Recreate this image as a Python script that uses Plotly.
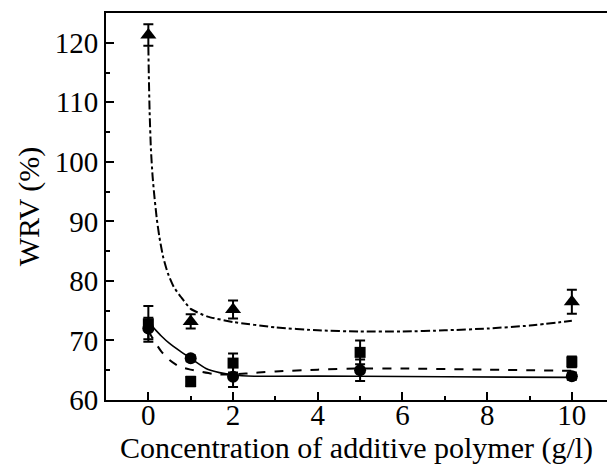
import plotly.graph_objects as go

# Measured WRV values (mean ± error) per additive polymer concentration (g/l)
tri_x = [0, 1, 2, 10]
tri_y = [121.3, 73.2, 75.2, 76.5]
tri_err = [1.8, 1.2, 1.5, 2.0]

sq_x = [0, 1, 2, 5, 10]
sq_y = [72.8, 63.1, 66.2, 68.0, 66.4]
sq_err = [3.0, 0.8, 1.6, 2.0, 0.9]

ci_x = [0, 1, 2, 5, 10]
ci_y = [72.0, 67.0, 63.9, 65.0, 64.0]
ci_err = [1.8, 0.5, 1.7, 1.8, 0.6]

# Fitted trend curves, sampled along each curve
fit_tri_x = [0, 0.01, 0.03, 0.06, 0.1, 0.14, 0.2, 0.26, 0.35, 0.46, 0.6, 0.77, 1.0, 1.4, 2.0, 3.0, 4.0, 5.0, 6.0, 7.0, 8.0, 9.0, 10.0]
fit_tri_y = [119.4, 115.0, 108.4, 102.2, 97.6, 94.4, 90.4, 87.4, 84.0, 81.3, 79.0, 77.3, 75.3, 74.0, 73.1, 72.2, 71.7, 71.5, 71.5, 71.7, 72.0, 72.5, 73.3]

fit_sq_x = [0, 0.1, 0.3, 0.5, 0.73, 1.0, 1.2, 1.5, 1.7, 2.0, 2.6, 3.0, 4.0, 5.0, 6.0, 8.0, 10.0]
fit_sq_y = [71.6, 70.4, 68.2, 66.7, 65.6, 65.1, 64.8, 64.4, 64.3, 64.3, 64.6, 64.8, 65.1, 65.3, 65.3, 65.1, 64.9]

fit_ci_x = [0, 0.1, 0.3, 0.5, 0.75, 1.0, 1.36, 1.68, 2.0, 2.5, 3.0, 5.0, 7.0, 10.0]
fit_ci_y = [73.0, 72.3, 70.8, 69.5, 68.2, 67.0, 65.3, 64.6, 64.2, 64.0, 64.0, 64.0, 63.9, 63.8]

FONT = "Liberation Serif"

fig = go.Figure()

# Fitted curves
fig.add_trace(go.Scatter(x=fit_tri_x, y=fit_tri_y, mode="lines",
                         line=dict(color="black", width=2, dash="dashdot", shape="spline", smoothing=0.5),
                         hoverinfo="skip"))
fig.add_trace(go.Scatter(x=fit_sq_x, y=fit_sq_y, mode="lines",
                         line=dict(color="black", width=2, dash="dash", shape="spline", smoothing=0.5),
                         hoverinfo="skip"))
fig.add_trace(go.Scatter(x=fit_ci_x, y=fit_ci_y, mode="lines",
                         line=dict(color="black", width=1.6, shape="spline", smoothing=0.5),
                         hoverinfo="skip"))

err_style = dict(type="data", visible=True, color="black", thickness=2, width=5)

fig.add_trace(go.Scatter(x=tri_x, y=tri_y, mode="markers",
                         marker=dict(symbol="triangle-up", size=14, color="black"),
                         error_y=dict(array=tri_err, **err_style)))
fig.add_trace(go.Scatter(x=sq_x, y=sq_y, mode="markers",
                         marker=dict(symbol="square", size=11, color="black"),
                         error_y=dict(array=sq_err, **err_style)))
fig.add_trace(go.Scatter(x=ci_x, y=ci_y, mode="markers",
                         marker=dict(symbol="circle", size=12, color="black"),
                         error_y=dict(array=ci_err, **err_style)))

fig.update_layout(
    width=607, height=471,
    margin=dict(l=106, r=0, t=13, b=71),
    paper_bgcolor="white", plot_bgcolor="white",
    showlegend=False,
    font=dict(family=FONT, color="black", size=29),
)

fig.update_xaxes(
    range=[-1, 10.83], tick0=0, dtick=2,
    showline=True, linecolor="black", linewidth=2, mirror=True,
    ticks="inside", ticklen=8, tickwidth=2, tickcolor="black",
    minor=dict(dtick=1, tick0=0, ticks="inside", ticklen=4, tickwidth=1.5, tickcolor="black"),
    showgrid=False, zeroline=False,
    tickfont=dict(family=FONT, size=29, color="black"),
    ticklabelstandoff=-12,
    title=dict(text="Concentration of additive polymer (g/l)", font=dict(family=FONT, size=30), standoff=0),
)

fig.update_yaxes(
    range=[60, 125], tick0=60, dtick=10,
    showline=True, linecolor="black", linewidth=2, mirror=False,
    ticks="inside", ticklen=8, tickwidth=2, tickcolor="black",
    minor=dict(dtick=5, tick0=60, ticks="inside", ticklen=4, tickwidth=1.5, tickcolor="black"),
    showgrid=False, zeroline=False,
    tickfont=dict(family=FONT, size=29, color="black"),
    title=dict(text="WRV (%)", font=dict(family=FONT, size=30), standoff=6),
)

fig.write_html("out.html")
